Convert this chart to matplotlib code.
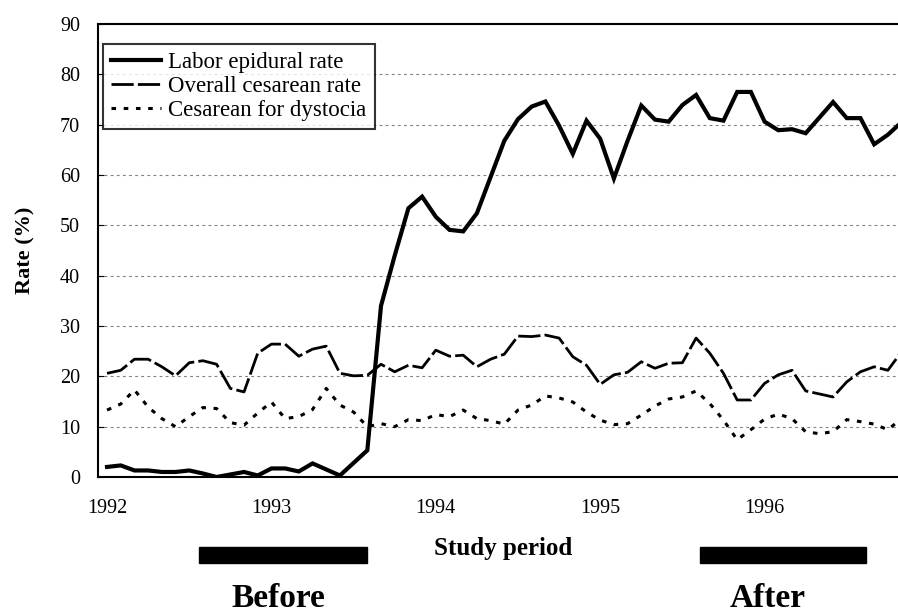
import matplotlib
matplotlib.use("Agg")
import matplotlib.pyplot as plt
import matplotlib.transforms as mtransforms
import numpy as np

# ---- data (monthly, Jan 1992 onward) ----
epidural = [2.0, 2.3, 1.3, 1.3, 1.0, 1.0, 1.3, 0.7, 0.0, 0.5,
            1.0, 0.3, 1.7, 1.7, 1.1, 2.7, 1.5, 0.3, 2.8, 5.3,
            34.0, 44.0, 53.4, 55.7, 51.7, 49.1, 48.8, 52.4, 59.6, 66.8,
            71.1, 73.6, 74.6, 69.8, 64.2, 70.8, 67.2, 59.3, 66.8, 73.8,
            71.0, 70.6, 73.9, 75.9, 71.3, 70.8, 76.5, 76.5, 70.6, 68.9,
            69.1, 68.3, 71.4, 74.5, 71.3, 71.3, 66.1, 68.0, 70.5]
cesarean = [20.6, 21.2, 23.4, 23.4, 21.9, 20.1, 22.7, 23.1, 22.4, 17.6,
            16.9, 24.6, 26.4, 26.4, 24.0, 25.4, 26.0, 20.6, 20.1, 20.2,
            22.4, 20.9, 22.2, 21.7, 25.2, 24.0, 24.2, 21.9, 23.4, 24.4,
            28.0, 27.9, 28.2, 27.6, 23.9, 22.2, 18.4, 20.3, 20.8, 22.9,
            21.6, 22.6, 22.7, 27.6, 24.6, 20.6, 15.3, 15.3, 18.6, 20.3,
            21.2, 17.1, 16.5, 15.9, 18.9, 20.9, 21.9, 21.2, 24.9]
dystocia = [13.3, 14.5, 17.3, 13.9, 11.6, 10.0, 12.0, 13.8, 13.6, 10.8,
            10.3, 12.7, 14.9, 11.6, 12.0, 13.4, 17.6, 14.3, 12.9, 10.0,
            10.6, 10.0, 11.4, 11.2, 12.4, 12.0, 13.3, 11.6, 11.2, 10.5,
            13.3, 14.3, 16.1, 15.7, 14.9, 12.9, 11.3, 10.4, 10.6, 12.3,
            14.1, 15.5, 15.9, 17.1, 14.6, 11.3, 7.4, 9.4, 11.5, 12.5,
            11.6, 9.0, 8.6, 9.0, 11.4, 11.0, 10.5, 9.4, 11.6]
year_labels = ["1992", "1993", "1994", "1995", "1996"]
series_labels = ["Labor epidural rate", "Overall cesarean rate", "Cesarean for dystocia"]
before_period = (6.7, 19.0)
after_period = (43.3, 55.4)

plt.rcParams['font.family'] = ['Liberation Serif', 'DejaVu Serif']

W, H = 898, 615
fig = plt.figure(figsize=(W / 100, H / 100), dpi=100)
ax = fig.add_axes([98 / W, 1 - 477 / H, 1 - 98 / W, (477 - 24) / H])

months = np.arange(len(epidural))
ax.plot(months, epidural, color='black', lw=3.0, solid_joinstyle='miter',
        label=series_labels[0], zorder=4)
ax.plot(months, cesarean, color='black', lw=2.0, dashes=(8, 1.5),
        label=series_labels[1], zorder=3)
ax.plot(months, dystocia, color='black', lw=2.2, dashes=(1.5, 2.5),
        label=series_labels[2], zorder=3)

ax.set_xlim(-0.66, 57.74)
ax.set_ylim(0, 90)
ax.set_yticks(np.arange(0, 91, 10))
ax.set_xticks(np.arange(0, 60, 12))
ax.set_xticklabels(year_labels)
ax.tick_params(axis='x', length=0, pad=16, labelsize=14.5)
ax.tick_params(axis='y', direction='in', length=4, pad=13, labelsize=14.5)

for v in range(10, 90, 10):
    ax.axhline(v, color='#808080', lw=0.8, ls=(0, (2.5, 3)), zorder=1)

for s in ['left', 'top', 'bottom']:
    ax.spines[s].set_linewidth(1.5)
    ax.spines[s].set_color('black')
ax.spines['right'].set_visible(False)

leg = ax.legend(loc='upper left', bbox_to_anchor=(5 / (W - 98), 1 - 20 / 453),
                fontsize=16.5, frameon=True, fancybox=False, edgecolor='black',
                handlelength=2.2, handletextpad=0.3, labelspacing=0.12,
                borderpad=0.35, borderaxespad=0)
leg.get_frame().set_linewidth(1.5)

fig.text(25 / W, 1 - 250 / H, "Rate (%)", rotation=90, ha='center', va='center',
         fontsize=16, fontweight='bold')

# study period bars (data x, figure y)
trans = mtransforms.blended_transform_factory(ax.transData, fig.transFigure)
for (x0, x1) in (before_period, after_period):
    rect = plt.Rectangle((x0, 1 - 563 / H), x1 - x0, 16 / H, transform=trans,
                         color='black', clip_on=False)
    fig.add_artist(rect)

fig.text(503 / W, 1 - 549 / H, "Study period", ha='center', va='center',
         fontsize=18, fontweight='bold')
fig.text(278 / W, 1 - 607 / H, "Before", ha='center', va='baseline',
         fontsize=24, fontweight='bold')
fig.text(768 / W, 1 - 607 / H, "After", ha='center', va='baseline',
         fontsize=24, fontweight='bold')

fig.savefig("out.png", dpi=100)
